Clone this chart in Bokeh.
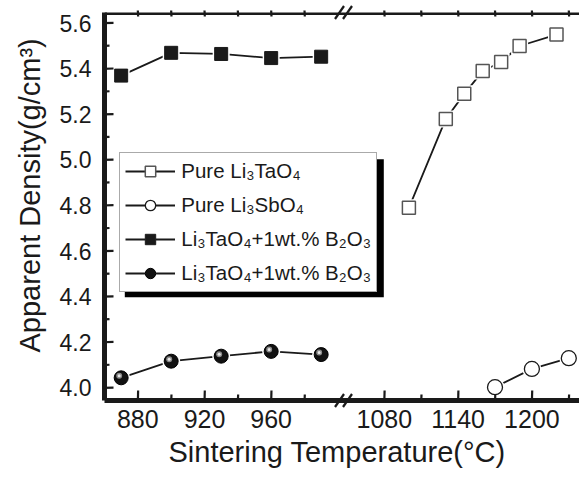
from bokeh.plotting import figure
from bokeh.models import (Range1d, LinearAxis, FixedTicker, Legend, LegendItem,
                          BoxAnnotation, PrintfTickFormatter, BasicTickFormatter, Title)
from bokeh.embed import file_html
from bokeh.resources import INLINE

# ---------------- data ----------------
temp_ta_b2o3 = [870, 900, 930, 960, 990]
dens_ta_b2o3 = [5.370, 5.470, 5.465, 5.447, 5.453]
temp_sb_b2o3 = [870, 900, 930, 960, 990]
dens_sb_b2o3 = [4.044, 4.117, 4.139, 4.160, 4.146]
temp_ta = [1100, 1130, 1145, 1160, 1175, 1190, 1220]
dens_ta = [4.790, 5.180, 5.290, 5.390, 5.430, 5.500, 5.550]
temp_sb = [1170, 1200, 1230]
dens_sb = [4.003, 4.083, 4.130]

left_ticks = [880, 920, 960]
left_minor = [900, 940, 980]
right_ticks = [1080, 1140, 1200]
right_minor = [1110, 1170, 1230]
y_ticks = [4.0, 4.2, 4.4, 4.6, 4.8, 5.0, 5.2, 5.4, 5.6]
y_minor = [4.1, 4.3, 4.5, 4.7, 4.9, 5.1, 5.3, 5.5]

legend_labels = ["Pure Li\u2083TaO\u2084", "Pure Li\u2083SbO\u2084",
                 "Li\u2083TaO\u2084+1wt.% B\u2082O\u2083", "Li\u2083TaO\u2084+1wt.% B\u2082O\u2083"]
x_title = "Sintering Temperature(\u00b0C)"
y_title = "Apparent Density(g/cm\u00b3)"

# ---------------- layout ----------------
W, H = 579, 477
FL, FT, FB = 104, 12, 77
frame_w = W - FL
frame_h = H - FT - FB
sx_l = 1.6667           # px per degree, left segment
sx_r = 1.23             # px per degree, right segment
sy = 227.9              # px per g/cm3
XL0 = 860.0
XL1 = XL0 + frame_w / sx_l
XR0 = 1080 - (383.8 - FL) / sx_r
XR1 = XR0 + frame_w / sx_r
Y1 = 5.6 + 10.7 / sy
Y0 = Y1 - frame_h / sy

FONT = "Liberation Sans"
INK = "#1a1a1a"


def to_left(t):
    """position of a right-segment temperature on the left-segment scale"""
    return round(XL0 + (t - XR0) * (XL1 - XL0) / (XR1 - XR0), 6)


def dx(px):
    return XL0 + (px - FL) / sx_l


def dy(py):
    return Y1 - (py - FT) / sy


p = figure(width=W, height=H, x_range=Range1d(XL0, XL1), y_range=Range1d(Y0, Y1),
           output_backend="svg", toolbar_location=None,
           min_border_left=FL, min_border_right=0, min_border_top=FT, min_border_bottom=FB,
           outline_line_color=None)
p.extra_x_ranges = {"right": Range1d(XR0, XR1)}
p.xgrid.visible = False
p.ygrid.visible = False


def style(ax, size="23px"):
    ax.axis_line_width = 5
    ax.axis_line_color = INK
    ax.major_tick_in = 0
    ax.major_tick_out = 0
    ax.minor_tick_in = 0
    ax.minor_tick_out = 0
    ax.major_label_text_font = FONT
    ax.major_label_text_font_size = size
    ax.major_label_text_color = INK


# y axis (tick labels)
ya = p.yaxis[0]
style(ya)
ya.ticker = FixedTicker(ticks=y_ticks, minor_ticks=y_minor)
ya.formatter = PrintfTickFormatter(format="%.1f")
ya.major_label_standoff = 13

# bottom axis (both segments, right ones placed through the range mapping)
all_major = left_ticks + [to_left(t) for t in right_ticks]
all_minor = left_minor + [to_left(t) for t in right_minor]
xa = p.xaxis[0]
style(xa, "25px")
xa.ticker = FixedTicker(ticks=all_major, minor_ticks=all_minor)
xa.formatter = BasicTickFormatter()
xa.major_label_overrides = {to_left(t): str(t) for t in right_ticks}
xa.major_label_standoff = 9

# top frame line
ta = LinearAxis(ticker=FixedTicker(ticks=[]), fixed_location=Y1)
style(ta, "1px")
p.add_layout(ta, "below")

# axis titles
p.add_layout(Title(text=x_title, align="left", offset=168 - FL, standoff=7,
                   text_font=FONT, text_font_size="29px", text_font_style="normal",
                   text_color=INK), "below")
p.add_layout(Title(text=y_title, align="left", offset=(FT + frame_h) - 352, standoff=22,
                   text_font=FONT, text_font_size="29px", text_font_style="normal",
                   text_color=INK), "left")

# inward tick marks: short strokes that start just under the axis line
OUT = 2.0     # px hidden under the axis line
EPS = 0.3     # px of slant so no stroke is perfectly axis-aligned
tk = dict(line_color=INK, line_width=2.2, level="overlay")


def yticks(vals, length):
    n = len(vals)
    p.segment(x0=[XL0 - OUT / sx_l] * n, x1=[XL0 + length / sx_l] * n,
              y0=list(vals), y1=[v + EPS / sy for v in vals], **tk)


def xticks(vals, rng, scale, y_edge, length, direction):
    n = len(vals)
    p.segment(x0=list(vals), x1=[v + EPS / scale for v in vals],
              y0=[y_edge - direction * OUT / sy] * n,
              y1=[y_edge + direction * length / sy] * n, x_range_name=rng, **tk)


yticks(y_ticks, 9)
yticks(y_minor, 5)
for rng, mj, mn, sc in (("default", left_ticks, left_minor, sx_l),
                        ("right", right_ticks, right_minor, sx_r)):
    xticks(mj, rng, sc, Y0, 10, 1)
    xticks(mn, rng, sc, Y0, 6, 1)
    xticks(mj + mn, rng, sc, Y1, 4, -1)

# ---------------- series ----------------
LW = 1.8
# Pure Li3TaO4 (open squares, right segment)
l1 = p.line(temp_ta, dens_ta, x_range_name="right", line_color=INK, line_width=LW)
w1 = p.scatter(temp_ta, dens_ta, x_range_name="right", marker="square", size=17,
               fill_color="white", line_color=None)
m1 = p.scatter(temp_ta, dens_ta, x_range_name="right", marker="square", size=13,
               fill_color="white", line_color="#555555", line_width=1.5)
# Pure Li3SbO4 (open circles, right segment)
l2 = p.line(temp_sb, dens_sb, x_range_name="right", line_color=INK, line_width=LW)
w2 = p.scatter(temp_sb, dens_sb, x_range_name="right", marker="circle", size=19,
               fill_color="white", line_color=None)
m2 = p.scatter(temp_sb, dens_sb, x_range_name="right", marker="circle", size=15,
               fill_color="white", line_color=INK, line_width=1.3)
# Li3TaO4 + B2O3 (filled squares, left segment)
l3 = p.line(temp_ta_b2o3, dens_ta_b2o3, line_color=INK, line_width=LW)
w3 = p.scatter(temp_ta_b2o3, dens_ta_b2o3, marker="square", size=17,
               fill_color="white", line_color=None)
m3 = p.scatter(temp_ta_b2o3, dens_ta_b2o3, marker="square", size=13,
               fill_color=INK, line_color=INK, line_width=1)
# second B2O3 series (black spheres, left segment)
l4 = p.line(temp_sb_b2o3, dens_sb_b2o3, line_color=INK, line_width=LW)
w4 = p.scatter(temp_sb_b2o3, dens_sb_b2o3, marker="circle", size=18,
               fill_color="white", line_color=None)
m4 = p.scatter(temp_sb_b2o3, dens_sb_b2o3, marker="circle", size=14,
               fill_color="#111111", line_color="#000000", line_width=1)
hx = [t - 2.0 / sx_l for t in temp_sb_b2o3]
hy = [d + 2.0 / sy for d in dens_sb_b2o3]
p.scatter(hx, hy, marker="circle", size=6, fill_color="#8a8a8a", line_color=None)
p.scatter(hx, hy, marker="circle", size=3, fill_color="#e8e8e8", line_color=None)

# ---------------- axis break marks ----------------
brk = dx(343)
ddx = 4.5 / sx_l
ddy = 6.5 / sy
gap = 8 / sx_l
for yb in (Y0, Y1):
    x0s = [brk - gap / 2 - ddx, brk + gap / 2 - ddx]
    x1s = [brk - gap / 2 + ddx, brk + gap / 2 + ddx]
    p.segment(x0=x0s, y0=[yb - ddy] * 2, x1=x1s, y1=[yb + ddy] * 2,
              line_color=INK, line_width=2.2, level="overlay")

# ---------------- legend ----------------
PAD, GW, GH, LS, SP = 5, 50, 26, 6, 8
box_l, box_b = 119.3, 291.7
box_w = 2 * PAD + GW + LS + 193
box_h = 2 * PAD + 4 * GH + 3 * SP
box_r, box_t = box_l + box_w, box_b - box_h

shadow = BoxAnnotation(left=dx(box_l + 5), right=dx(box_r + 5), top=dy(box_t + 5),
                       bottom=dy(box_b + 5), fill_color="black", fill_alpha=1,
                       line_color=None, level="underlay")
p.add_layout(shadow)

items = [LegendItem(label=legend_labels[0], renderers=[l1, w1, m1]),
         LegendItem(label=legend_labels[1], renderers=[l2, w2, m2]),
         LegendItem(label=legend_labels[2], renderers=[l3, w3, m3]),
         LegendItem(label=legend_labels[3], renderers=[l4, w4, m4])]
leg = Legend(items=items, location=(box_l - FL, (FT + frame_h) - box_b))
leg.label_text_font = FONT
leg.label_text_font_size = "20.5px"
leg.label_text_color = INK
leg.glyph_width = GW
leg.glyph_height = GH
leg.label_height = GH
leg.label_standoff = LS
leg.spacing = SP
leg.padding = PAD
leg.margin = 0
leg.border_line_color = "#555555"
leg.border_line_width = 1.2
leg.background_fill_color = "white"
leg.background_fill_alpha = 1
p.add_layout(leg, "center")

open("out.html", "w").write(file_html(p, INLINE))
